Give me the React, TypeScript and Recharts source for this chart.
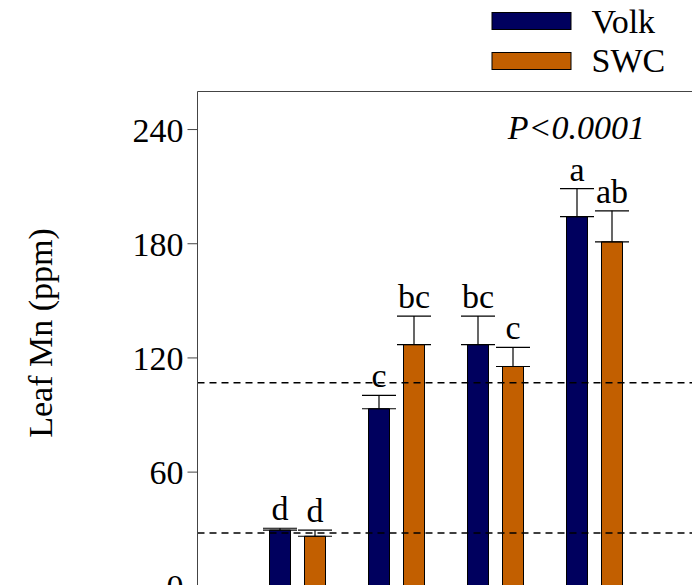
import { BarChart, Bar, XAxis, YAxis, ErrorBar, LabelList, ReferenceLine, Legend, Label } from 'recharts';

const treatments = ['T1', 'T2', 'T3', 'T4'];
const volk = [29.5, 93.3, 127, 194.2];
const volkErr = [1, 7, 15, 14.8];
const volkLetters = ['d', 'c', 'bc', 'a'];
const swc = [26.3, 127, 115.5, 181];
const swcErr = [3.2, 15, 10, 16.3];
const swcLetters = ['d', 'bc', 'c', 'ab'];
const yTicks = [0, 60, 120, 180, 240];
const sufficiency = [28, 107];
const pValue = 'P<0.0001';

const data = treatments.map((t, i) => ({
  t,
  volk: volk[i],
  volkErr: [0, volkErr[i]],
  swc: swc[i],
  swcErr: [0, swcErr[i]],
}));

const FONT = '"Liberation Serif", "Times New Roman", serif';
const NAVY = '#00005e';
const ORANGE = '#c25f00';
const AXIS = '#444';

const W = 720;
const H = 660;
const M = { top: 91.5, right: 26.5, bottom: 33.7, left: 0 };
const Y_W = 197.5;
const X_H = 40;
const Y_MAX = 260;
const pxPerUnit = (H - M.top - M.bottom - X_H) / Y_MAX;

const letterLabel = (letters: string[], errs: number[]) => (props: any) => {
  const x = Number(props.x);
  const y = Number(props.y);
  const w = Number(props.width);
  const i = props.index;
  const top = y - errs[i] * pxPerUnit;
  return (
    <text x={x + w / 2} y={top - 8} textAnchor="middle" fontFamily={FONT} fontSize={34} fill="#000">
      {letters[i]}
    </text>
  );
};

const LegendBox = () => (
  <svg width={212} height={90}>
    <rect x={12} y={12.5} width={79} height={17} fill={NAVY} stroke="#000" strokeWidth={1} />
    <text x={111.5} y={33.3} fontFamily={FONT} fontSize={34} fill="#000">Volk</text>
    <rect x={12} y={52.5} width={79} height={17} fill={ORANGE} stroke="#000" strokeWidth={1} />
    <text x={111.5} y={71.7} fontFamily={FONT} fontSize={34} fill="#000">SWC</text>
  </svg>
);

export default function App() {
  return (
    <div style={{ position: 'fixed', left: 0, top: 0, width: 692, height: 585, overflow: 'hidden', background: '#fff' }}>
      <BarChart width={W} height={H} data={data} margin={M} barSize={21} barGap={14}>
        <XAxis
          dataKey="t"
          height={X_H}
          padding={{ left: 50, right: 50 }}
          tick={false}
          tickLine={false}
          axisLine={{ stroke: AXIS }}
        />
        <YAxis
          width={Y_W}
          domain={[0, Y_MAX]}
          ticks={yTicks}
          interval={0}
          tickSize={10}
          tickMargin={4}
          axisLine={{ stroke: AXIS }}
          tickLine={{ stroke: AXIS }}
          tick={{ fill: '#000', fontSize: 34, fontFamily: FONT }}
        >
          <Label
            content={() => (
              <text
                x={40}
                y={333}
                transform="rotate(-90, 40, 333)"
                textAnchor="middle"
                dominantBaseline="central"
                fontFamily={FONT}
                fontSize={34}
                fill="#000"
              >
                Leaf Mn (ppm)
              </text>
            )}
          />
        </YAxis>
        <ReferenceLine
          y={Y_MAX}
          stroke={AXIS}
          label={{
            content: (p: any) => {
              const vb = p.viewBox || {};
              return (
                <text
                  x={vb.x + vb.width - 48.5}
                  y={vb.y + 47.5}
                  textAnchor="end"
                  fontFamily={FONT}
                  fontStyle="italic"
                  fontSize={34}
                  fill="#000"
                >
                  {pValue}
                </text>
              );
            },
          }}
        />
        {sufficiency.map((v) => (
          <ReferenceLine key={v} y={v} stroke="#000" strokeWidth={1.5} strokeDasharray="7 5" />
        ))}
        <Bar dataKey="volk" fill={NAVY} stroke="#000" strokeWidth={1} isAnimationActive={false}>
          <ErrorBar dataKey="volkErr" width={17} stroke="#000" strokeWidth={1.2} direction="y" isAnimationActive={false} />
          <LabelList dataKey="volk" content={letterLabel(volkLetters, volkErr)} />
        </Bar>
        <Bar dataKey="swc" fill={ORANGE} stroke="#000" strokeWidth={1} isAnimationActive={false}>
          <ErrorBar dataKey="swcErr" width={17} stroke="#000" strokeWidth={1.2} direction="y" isAnimationActive={false} />
          <LabelList dataKey="swc" content={letterLabel(swcLetters, swcErr)} />
        </Bar>
        <Legend
          layout="vertical"
          align="center"
          verticalAlign="middle"
          wrapperStyle={{ left: 480, top: 0, width: 212, height: 90 }}
          content={() => <LegendBox />}
        />
      </BarChart>
    </div>
  );
}
